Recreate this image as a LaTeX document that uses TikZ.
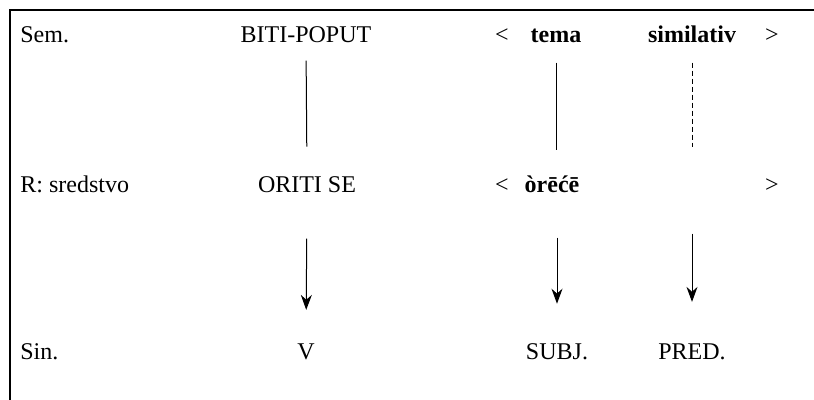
\documentclass[tikz,border=0pt]{standalone}
\usepackage{fontspec}
\setmainfont{Liberation Serif}
\usepackage{tikz}
\usetikzlibrary{arrows.meta}

\begin{document}
\begin{tikzpicture}[x=0.5pt,y=-0.5pt,
		lbl/.style={inner sep=0pt,anchor=base,font=\fontsize{12}{14}\selectfont},
		bold/.style={lbl,font=\fontsize{12}{14}\selectfont\bfseries},
		link/.style={line width=0.5pt},
		arr/.style={line width=0.5pt,-{Stealth[length=7.5pt,width=5.5pt]}}]
			\useasboundingbox (0,0) rectangle (814,400);
			\draw[line width=1pt] (10,400) -- (10,10) -- (814,10);
			% Sem. row
			\node[lbl,anchor=base west] (nodeSem) at (20,43) {Sem.};
			\node[lbl] (nodeBiti) at (306,43) {BITI-POPUT};
			\node[lbl] (nodeLtA) at (502,43) {<};
			\node[bold] (nodeTema) at (556,43) {tema};
			\node[bold] (nodeSim) at (692,43) {similativ};
			\node[lbl] (nodeGtA) at (772,43) {>};
			% R row
			\node[lbl,anchor=base west] (nodeR) at (20,193) {R: sredstvo};
			\node[lbl] (nodeOriti) at (307,193) {ORITI SE};
			\node[lbl] (nodeLtB) at (502,193) {<};
			\node[bold] (nodeOrece) at (552,193) {òrēćē};
			\node[lbl] (nodeGtB) at (772,193) {>};
			% Sin. row
			\node[lbl,anchor=base west] (nodeSin) at (20,360) {Sin.};
			\node[lbl] (nodeV) at (306,360) {V};
			\node[lbl] (nodeSubj) at (557,360) {SUBJ.};
			\node[lbl] (nodePred) at (692,360) {PRED.};
			% Sem. -> R
			\draw[link,shorten <=8.5pt,shorten >=15pt] (nodeBiti.south) -- (nodeOriti.north);
			\draw[link,shorten <=9.5pt,shorten >=13.5pt] (nodeTema.south) -- (nodeTema.south |- nodeOriti.north);
			\draw[link,dash pattern=on 2.5pt off 1.5pt,shorten <=9.5pt,shorten >=15pt] (nodeSim.south) -- (nodeSim.south |- nodeOriti.north);
			% R -> Sin.
			\draw[arr,shorten <=22.5pt,shorten >=17pt] (nodeOriti.south) -- (nodeV.north);
			\draw[arr,shorten <=22pt,shorten >=20pt] (nodeSubj.north |- nodeOriti.south) -- (nodeSubj.north);
			\draw[arr,shorten <=20pt,shorten >=21pt] (nodePred.north |- nodeOriti.south) -- (nodePred.north);
		\end{tikzpicture}
\end{document}
